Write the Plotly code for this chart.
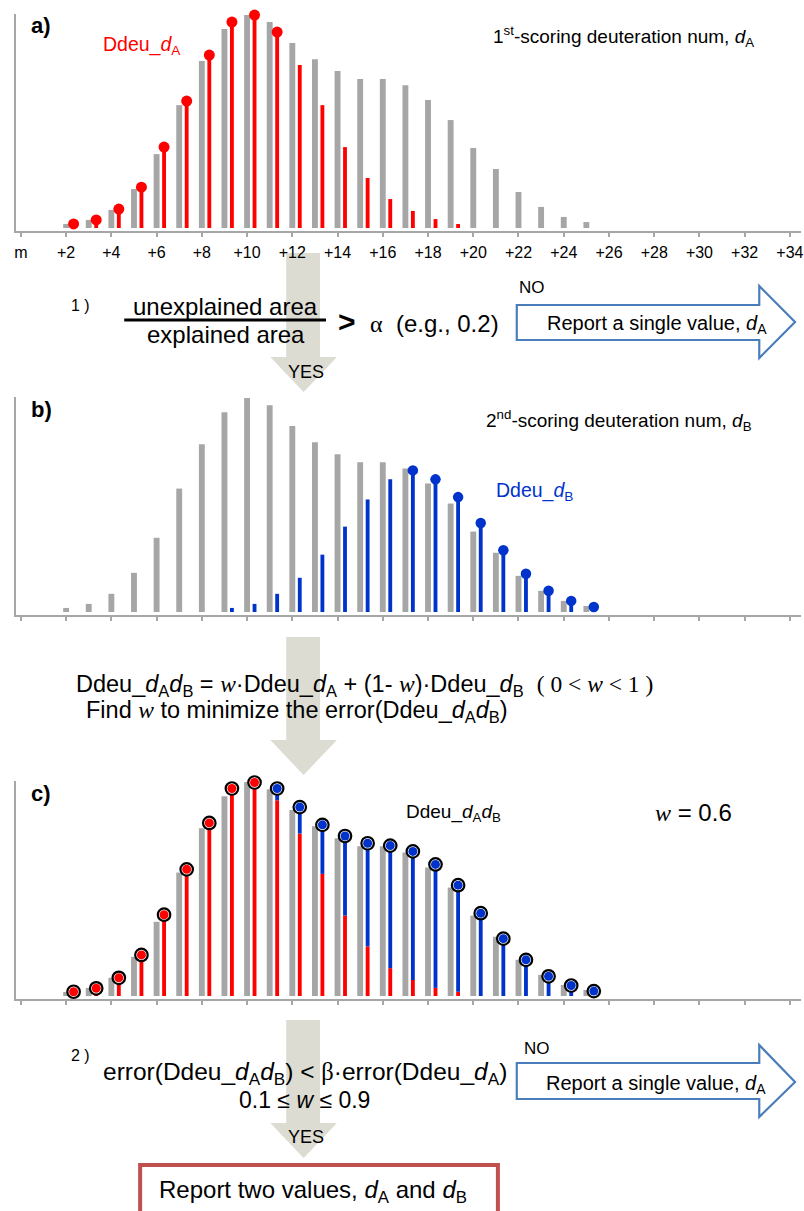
import plotly.graph_objects as go

W, H = 804, 1211

# ---------------- data ----------------
positions = [2, 3, 4, 5, 6, 7, 8, 9, 10, 11, 12, 13, 14, 15, 16, 17, 18, 19, 20, 21, 22, 23, 24, 25]
gray_vals = [1.9, 3.8, 8.5, 18.3, 34.7, 57.7, 78.4, 93.4, 100.0, 96.7, 86.9, 79.3,
             73.7, 70.0, 70.0, 67.1, 60.1, 50.7, 37.6, 27.7, 16.9, 9.9, 5.2, 2.8]

red_pos = [2, 3, 4, 5, 6, 7, 8, 9, 10, 11, 12, 13, 14, 15, 16, 17, 18, 19]
red_vals = [1.9, 3.8, 8.9, 19.2, 38.0, 59.6, 81.2, 96.7, 100.0, 92.0, 76.5, 57.7,
            38.0, 23.5, 13.6, 8.0, 4.2, 1.9]
red_dot_count = 10  # dots drawn on +2 .. +11

blue_pos = [9, 10, 11, 12, 13, 14, 15, 16, 17, 18, 19, 20, 21, 22, 23, 24, 25]
blue_vals = [1.9, 3.8, 8.5, 16.0, 26.8, 39.9, 52.6, 62.0, 66.2, 62.0, 53.7, 41.6,
             28.9, 17.9, 9.9, 5.2, 2.3]
blue_dot_start = 8  # dots drawn on +17 .. +25

c_red = [2.0, 3.6, 8.5, 19.2, 38.0, 59.2, 80.9, 97.0, 99.8, 91.5, 75.9, 57.1,
         37.6, 23.2, 13.0, 7.5, 3.8, 2.0, 0, 0, 0, 0, 0, 0]
c_blue = [0, 0, 0, 0, 0, 0, 0, 0, 0, 5.5, 12.4, 22.9,
          37.2, 48.2, 57.3, 60.1, 57.7, 49.8, 38.7, 26.8, 16.9, 9.2, 4.9, 2.3]

tick_vals = [0, 2, 4, 6, 8, 10, 12, 14, 16, 18, 20, 22, 24, 26, 28, 30, 32, 34]
tick_text = ["m", "+2", "+4", "+6", "+8", "+10", "+12", "+14", "+16", "+18",
             "+20", "+22", "+24", "+26", "+28", "+30", "+32", "+34"]

# ---------------- style ----------------
GRAY = "#a6a6a6"
RED = "#ff0000"
BLUE = "#0033cc"
ARROW_GRAY = "#dcdcd3"
ARROW_BLUE = "#4a7ebb"
BOX_RED = "#c0504d"
SANS = "Liberation Sans, Arial, sans-serif"
SERIF = "Liberation Serif"
GW, CW, SHIFT = 0.26, 0.17, 0.33


def px(x):
    return x / W


def py(y):
    return 1 - y / H


fig = go.Figure()


def gray_bars(ax):
    fig.add_trace(go.Bar(x=positions, y=gray_vals, width=GW, offset=-GW / 2,
                         marker=dict(color=GRAY, line_width=0),
                         xaxis="x" + ax, yaxis="y" + ax, showlegend=False))


def col_bars(xs, ys, color, ax, base=None):
    fig.add_trace(go.Bar(x=xs, y=ys, base=base, width=CW, offset=SHIFT - CW / 2,
                         marker=dict(color=color, line_width=0),
                         xaxis="x" + ax, yaxis="y" + ax, showlegend=False))


# panel a
gray_bars("")
col_bars(red_pos, red_vals, RED, "")
fig.add_trace(go.Scatter(x=[p + SHIFT for p in red_pos[:red_dot_count]],
                         y=red_vals[:red_dot_count], mode="markers", cliponaxis=False,
                         marker=dict(color=RED, size=11), showlegend=False,
                         xaxis="x", yaxis="y"))

# panel b
gray_bars("2")
col_bars(blue_pos, blue_vals, BLUE, "2")
fig.add_trace(go.Scatter(x=[p + SHIFT for p in blue_pos[blue_dot_start:]],
                         y=blue_vals[blue_dot_start:], mode="markers", cliponaxis=False,
                         marker=dict(color=BLUE, size=10.5), showlegend=False,
                         xaxis="x2", yaxis="y2"))

# panel c
gray_bars("3")
col_bars(positions, c_red, RED, "3")
col_bars(positions, c_blue, BLUE, "3", base=c_red)
c_tot = [r + b for r, b in zip(c_red, c_blue)]
xs_c = [p + SHIFT for p in positions]
fig.add_trace(go.Scatter(x=xs_c, y=c_tot, mode="markers", cliponaxis=False,
                         marker=dict(color="white", size=12.5, line=dict(color="black", width=2.2)),
                         showlegend=False, xaxis="x3", yaxis="y3"))
red_idx = [i for i, b in enumerate(c_blue) if b == 0]
blue_idx = [i for i, b in enumerate(c_blue) if b != 0]
fig.add_trace(go.Scatter(x=[xs_c[i] for i in red_idx], y=[c_tot[i] for i in red_idx],
                         mode="markers", cliponaxis=False, marker=dict(color=RED, size=9),
                         showlegend=False, xaxis="x3", yaxis="y3"))
fig.add_trace(go.Scatter(x=[xs_c[i] for i in blue_idx], y=[c_tot[i] for i in blue_idx],
                         mode="markers", cliponaxis=False, marker=dict(color=BLUE, size=9),
                         showlegend=False, xaxis="x3", yaxis="y3"))

# ---------------- axes ----------------
panels = {"": (14, 231), "2": (397, 615), "3": (781, 999)}
layout_axes = {}
for ax, (top, bot) in panels.items():
    layout_axes["xaxis" + ax] = dict(
        domain=[px(14), 1], range=[-0.22, 34.49], anchor="y" + ax,
        showline=True, linecolor=GRAY, linewidth=2, showgrid=False, zeroline=False,
        tickmode="array", tickvals=tick_vals, ticktext=tick_text,
        ticks="outside", ticklen=4, tickwidth=1.5, tickcolor=GRAY,
        showticklabels=(ax == ""), ticklabelstandoff=2, ticklabeloverflow="allow",
        tickfont=dict(family=SANS, size=16, color="black"), fixedrange=True)
    layout_axes["yaxis" + ax] = dict(
        domain=[py(bot), py(top)], range=[-1.4, 100.5], anchor="x" + ax,
        showline=True, linecolor=GRAY, linewidth=2, showgrid=False, zeroline=False,
        showticklabels=False, ticks="", fixedrange=True)

# ---------------- shapes ----------------
shapes = []


def gray_arrow(top, head, tip):
    path = (f"M {px(286)},{py(top)} L {px(320)},{py(top)} L {px(320)},{py(head)} "
            f"L {px(337)},{py(head)} L {px(303.5)},{py(tip)} L {px(270)},{py(head)} "
            f"L {px(286)},{py(head)} Z")
    shapes.append(dict(type="path", xref="paper", yref="paper", path=path,
                       fillcolor=ARROW_GRAY, line=dict(width=0), layer="below"))


def blue_arrow(rt, rb, ht, hb, tipy):
    path = (f"M {px(518)},{py(rt)} L {px(762)},{py(rt)} L {px(762)},{py(ht)} "
            f"L {px(798)},{py(tipy)} L {px(762)},{py(hb)} L {px(762)},{py(rb)} "
            f"L {px(518)},{py(rb)} Z")
    shapes.append(dict(type="path", xref="paper", yref="paper", path=path,
                       fillcolor="white", line=dict(color=ARROW_BLUE, width=2.2)))


gray_arrow(253, 357, 392)
gray_arrow(637, 740, 775)
gray_arrow(1020, 1123, 1158)
blue_arrow(305, 340, 286, 358, 322)
blue_arrow(1063, 1099, 1045, 1117, 1082)
shapes.append(dict(type="line", xref="paper", yref="paper",
                   x0=px(123), x1=px(326), y0=py(320), y1=py(320),
                   line=dict(color="black", width=3)))
shapes.append(dict(type="rect", xref="paper", yref="paper",
                   x0=px(139), x1=px(499), y0=py(1165), y1=py(1225),
                   fillcolor="white", line=dict(color=BOX_RED, width=4)))

# ---------------- annotations ----------------
anns = []


def note(text, x, y, size, color="black", xanchor="left", family=SANS):
    anns.append(dict(text=text, x=px(x), y=py(y), xref="paper", yref="paper",
                     xanchor=xanchor, yanchor="middle", showarrow=False,
                     font=dict(family=family, size=size, color=color)))


def serif(t):
    return f'<span style="font-family:{SERIF}">{t}</span>'


note("<b>a)</b>", 27, 25, 22)
note("<b>b)</b>", 27, 409, 22)
note("<b>c)</b>", 27, 793, 22)
note("Ddeu_<i>d</i><sub>A</sub>", 100, 46, 19.5, RED)
note("1<sup>st</sup>-scoring deuteration num, <i>d</i><sub>A</sub>", 492, 37, 19)
note("2<sup>nd</sup>-scoring deuteration num, <i>d</i><sub>B</sub>", 485, 421, 19)
note("Ddeu_<i>d</i><sub>B</sub>", 495, 491, 19.5, BLUE)
note("Ddeu_<i>d</i><sub>A</sub><i>d</i><sub>B</sub>", 405, 813, 19)
note(serif("<i>w</i>") + " = 0.6", 655, 812, 24)

note("1 )", 67, 305, 16)
note("unexplained area", 225, 306, 24, xanchor="center")
note("explained area", 225, 335, 24, xanchor="center")
note("<b>&gt;</b>", 347, 321, 30, xanchor="center")
note(serif("α") + "  (e.g., 0.2)", 368, 323, 24)
note("NO", 518, 288, 17)
note("Report a single value, <i>d</i><sub>A</sub>", 546, 325, 20)
note("YES", 306, 372, 18, xanchor="center")

note("Ddeu_<i>d</i><sub>A</sub><i>d</i><sub>B</sub> = " + serif("<i>w</i>")
     + "·Ddeu_<i>d</i><sub>A</sub> + (1- " + serif("<i>w</i>") + ")·Ddeu_<i>d</i><sub>B</sub>  "
     + serif("( 0 &lt; <i>w</i> &lt; 1 )"), 72, 685, 23.5)
note("Find " + serif("<i>w</i>") + " to minimize the error(Ddeu_<i>d</i><sub>A</sub><i>d</i><sub>B</sub>)",
     83, 711, 23.5)

note("2 )", 67, 1055, 16)
note("error(Ddeu_<i>d</i><sub>A</sub><i>d</i><sub>B</sub>) &lt; " + serif("β")
     + "·error(Ddeu_<i>d</i><sub>A</sub>)", 305, 1073, 24.5, xanchor="center")
note("0.1 ≤ <i>w</i> ≤ 0.9", 304, 1100, 23, xanchor="center")
note("NO", 523, 1048, 17)
note("Report a single value, <i>d</i><sub>A</sub>", 545, 1084, 20)
note("YES", 306, 1137, 18, xanchor="center")
note("Report two values, <i>d</i><sub>A</sub> and <i>d</i><sub>B</sub>", 156, 1191, 24)

fig.update_layout(
    width=W, height=H, margin=dict(l=0, r=0, t=0, b=0),
    paper_bgcolor="white", plot_bgcolor="white",
    barmode="overlay", showlegend=False,
    font=dict(family=SANS, color="black"),
    shapes=shapes, annotations=anns, **layout_axes)

fig.write_html("out.html")
